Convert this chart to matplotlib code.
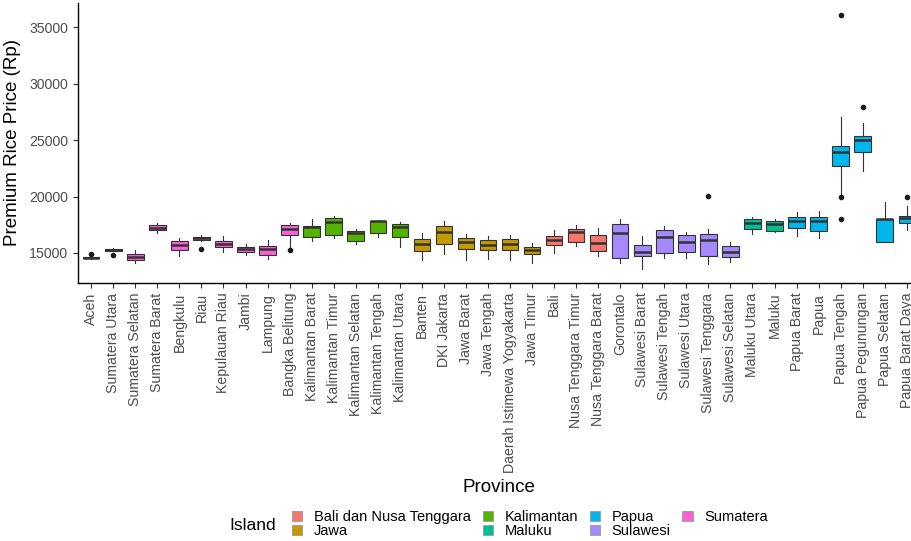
import matplotlib
matplotlib.use("Agg")
import matplotlib.pyplot as plt
from matplotlib.patches import Patch

plt.rcParams['font.family'] = ['Liberation Sans', 'DejaVu Sans']

# Provinces in plot order, with island group
provinces = ["Aceh", "Sumatera Utara", "Sumatera Selatan", "Sumatera Barat", "Bengkulu", "Riau",
             "Kepulauan Riau", "Jambi", "Lampung", "Bangka Belitung", "Kalimantan Barat",
             "Kalimantan Timur", "Kalimantan Selatan", "Kalimantan Tengah", "Kalimantan Utara",
             "Banten", "DKI Jakarta", "Jawa Barat", "Jawa Tengah", "Daerah Istimewa Yogyakarta",
             "Jawa Timur", "Bali", "Nusa Tenggara Timur", "Nusa Tenggara Barat", "Gorontalo",
             "Sulawesi Barat", "Sulawesi Tengah", "Sulawesi Utara", "Sulawesi Tenggara",
             "Sulawesi Selatan", "Maluku Utara", "Maluku", "Papua Barat", "Papua", "Papua Tengah",
             "Papua Pegunungan", "Papua Selatan", "Papua Barat Daya"]
island = ["Sumatera"] * 10 + ["Kalimantan"] * 5 + ["Jawa"] * 6 + ["Bali dan Nusa Tenggara"] * 3 \
    + ["Sulawesi"] * 6 + ["Maluku"] * 2 + ["Papua"] * 6

# box statistics
whis_lo = [14500, 15150, 14100, 16800, 14730, 16100, 15100, 14800, 14440, 15450,
           16090, 16300, 15770, 16450, 15560, 14380, 14910, 14380, 14500, 14380,
           14090, 14970, 15650, 14730, 14140, 13580, 14580, 14580, 14000, 14180,
           16660, 16840, 16510, 16360, 20050, 22300, 16000, 17040]
q1 = [14550, 15200, 14380, 17010, 15290, 16150, 15530, 15060, 14850, 16600,
      16420, 16600, 16090, 16770, 16450, 15200, 15770, 15380, 15290, 15290,
      14880, 15740, 15980, 15180, 14580, 14700, 15030, 15060, 14760, 14650,
      17150, 16950, 17240, 16950, 22710, 23980, 16000, 17690]
median = [14580, 15270, 14620, 17240, 15700, 16300, 15800, 15330, 15330, 17120,
          17330, 17780, 16750, 17810, 17280, 15800, 16890, 15980, 15740, 15770,
          15290, 16150, 16890, 15910, 16740, 15090, 16420, 15950, 16150, 15060,
          17630, 17600, 17840, 17870, 23980, 25020, 18000, 18060]
q3 = [14620, 15330, 14880, 17510, 16070, 16450, 16100, 15560, 15650, 17500,
      17420, 18130, 16980, 17870, 17570, 16210, 17390, 16300, 16180, 16210,
      15560, 16480, 17130, 16600, 17570, 15710, 17010, 16600, 16660, 15620,
      17990, 17870, 18190, 18160, 24510, 25370, 18040, 18270]
whis_hi = [14650, 15400, 15250, 17630, 16290, 16570, 16510, 15770, 16150, 17630,
           17990, 18310, 17150, 17900, 17780, 16750, 17840, 16680, 16510, 16570,
           15860, 17040, 17510, 17190, 17990, 16530, 17390, 16890, 17100, 15950,
           18220, 18040, 18610, 18700, 27030, 26500, 19490, 19190]
outliers = {"Aceh": [14900], "Sumatera Utara": [14800], "Riau": [15330],
            "Bangka Belitung": [15250], "Sulawesi Tenggara": [20050],
            "Papua Tengah": [36100, 19950, 18000], "Papua Pegunungan": [27940],
            "Papua Barat Daya": [19990]}

island_levels = ["Bali dan Nusa Tenggara", "Jawa", "Kalimantan", "Maluku", "Papua", "Sulawesi", "Sumatera"]
island_colors = ["#F8766D", "#C49A00", "#53B400", "#00C094", "#00B6EB", "#A58AFF", "#FB61D7"]
cmap = dict(zip(island_levels, island_colors))

stats = []
for i, p in enumerate(provinces):
    stats.append(dict(whislo=whis_lo[i], q1=q1[i], med=median[i], q3=q3[i],
                      whishi=whis_hi[i], fliers=outliers.get(p, [])))

fig = plt.figure(figsize=(9.12, 5.41), dpi=100)
ax = fig.add_axes([78 / 912, 1 - 283 / 541, 842 / 912, 280 / 541])

edge = "#333333"
bp = ax.bxp(stats, positions=range(1, len(provinces) + 1), widths=0.75, patch_artist=True,
            showcaps=False,
            boxprops=dict(edgecolor=edge, linewidth=0.8),
            whiskerprops=dict(color=edge, linewidth=0.8),
            medianprops=dict(color=edge, linewidth=1.8),
            flierprops=dict(marker="o", markerfacecolor="#1a1a1a", markeredgecolor="#1a1a1a",
                            markersize=3))
for box, isl in zip(bp["boxes"], island):
    box.set_facecolor(cmap[isl])

ax.set_xlim(0.4, len(provinces) + 0.6)
ax.set_ylim(12340, 37160)
ax.set_yticks([15000, 20000, 25000, 30000, 35000])
ax.set_xticks(range(1, len(provinces) + 1))
ax.set_xticklabels(provinces, rotation=90)
ax.tick_params(axis="both", colors="#333333", labelcolor="#4D4D4D", labelsize=10.2, length=3.5, width=0.8)
for s in ["top", "right"]:
    ax.spines[s].set_visible(False)
for s in ["left", "bottom"]:
    ax.spines[s].set_linewidth(1.0)

ax.set_ylabel("Premium Rice Price (Rp)", fontsize=13.5, labelpad=6)
fig.text(499 / 912, 1 - 487 / 541, "Province", fontsize=13.5, ha="center", va="center")

handles = [Patch(facecolor=c, edgecolor="#999999", linewidth=0.6) for c in island_colors]
fig.legend(handles, island_levels, ncol=4, loc="center left",
           bbox_to_anchor=(285 / 912, 1 - 524 / 541), frameon=False, fontsize=10.5,
           handlelength=0.7, handleheight=0.7, handletextpad=0.8, columnspacing=0.8,
           labelspacing=0.0, borderpad=0)
fig.text(229 / 912, 1 - 525 / 541, "Island", fontsize=12.5, ha="left", va="center")

fig.savefig("out.png", dpi=100)
